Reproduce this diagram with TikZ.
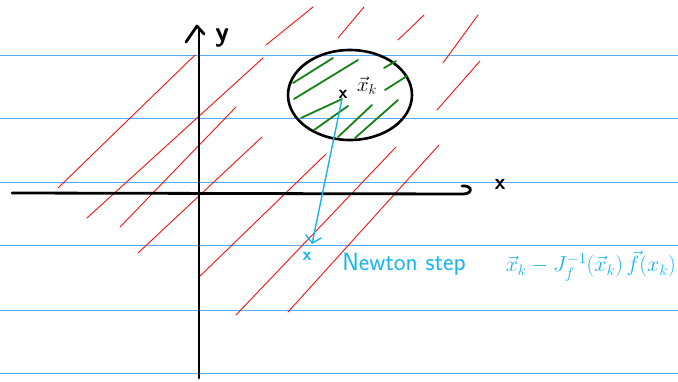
\documentclass[tikz,border=0pt]{standalone}
\usepackage{amsmath,amssymb}
\usepackage{fontspec}
\usetikzlibrary{arrows.meta}
\definecolor{rule}{RGB}{85,170,250}
\definecolor{ink}{RGB}{20,180,240}
\definecolor{hatchred}{RGB}{240,20,20}
\definecolor{hatchgreen}{RGB}{20,130,20}

\begin{document}
\begin{tikzpicture}[x=1pt,y=-1pt,
    rl/.style={draw=rule,line width=1pt},
    ax/.style={line width=2.8pt,line cap=round,line join=round},
    rh/.style={draw=hatchred,line width=0.9pt,line cap=round},
    gh/.style={draw=hatchgreen,line width=1.8pt,line cap=round},
    mk/.style={inner sep=1pt,font=\sffamily\bfseries\fontsize{18}{19}\selectfont},
    hand/.style={text=ink,font=\sffamily\fontsize{25}{27}\selectfont}]
  \useasboundingbox (0,0) rectangle (678,381);
  % ruled paper
  \foreach \y in {55,118,182,245,310,373}
    \draw[rl] (0,\y) -- (678,\y);
  % red hatching
  \foreach \a/\b/\c/\d in {58/188/195/55, 87/218/263/58, 120/227/236/107,
      138/253/262/137, 198/278/326/154, 236/315/396/147, 288/312/439/145,
      266/45/313/7, 338/38/364/7, 398/40/424/15, 443/63/478/15, 437/110/480/61}
    \draw[rh] (\a,\b) -- (\c,\d);
  % feasible ball
  \draw[line width=2.6pt] (350,95) ellipse [x radius=62, y radius=45];
  \foreach \a/\b/\c/\d in {293/83/333/58, 294/99/358/60, 301/118/342/99,
      314/130/348/106, 338/137/372/105, 355/138/398/100, 384/68/396/61,
      385/90/407/76}
    \draw[gh] (\a,\b) -- (\c,\d);
  % axes
  \draw[ax] (12,193) -- (463,194) .. controls (473,194) and (473,185) .. (462,186);
  \draw[ax] (199,378) -- (199,28);
  \draw[ax] (186,42) -- (197,26) -- (204,34);
  \node[font=\sffamily\bfseries\fontsize{28}{30}\selectfont] (ylab) at (222,38) {y};
  \node[font=\sffamily\bfseries\fontsize{22}{24}\selectfont] (xlab) at (500,184) {x};
  % iterate and Newton step
  \node[mk] (xk) at (343,94) {x};
  \node[font=\fontsize{20}{22}\selectfont] (xklab) at (367,86) {$\vec{x}_k$};
  \coordinate (stepend) at (312,244);
  \node[mk,text=ink] (xnew) at (307,256) {x};
  \draw[draw=ink,line width=1.4pt,-{Straight Barb[length=7pt,width=16pt,line width=1.4pt]}]
    (xk) -- (stepend);
  \node[hand] (step) at (404,264) {Newton step};
  \node[text=ink,font=\fontsize{20}{22}\selectfont,scale=1.05,transform shape,
    anchor=east,inner sep=1pt] (upd) at (677,266)
    {$\vec{x}_k - J_f^{-1}(\vec{x}_k)\,\vec{f}(x_k)$};
\end{tikzpicture}
\end{document}
